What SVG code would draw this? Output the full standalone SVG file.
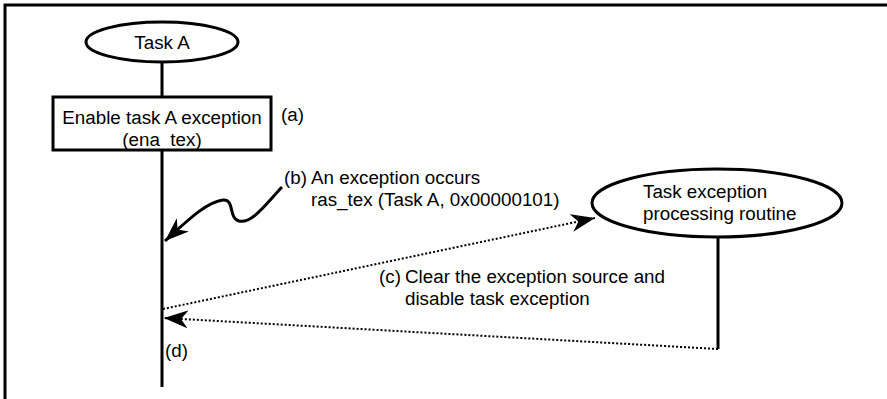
<svg xmlns="http://www.w3.org/2000/svg" width="887" height="399" viewBox="0 0 887 399">
<style>
  .t { font-family: "Liberation Sans", Arial, sans-serif; font-size: 18.8px; fill: #000; }
  .c { text-anchor: middle; }
  .shape { fill: #fff; stroke: #000; stroke-width: 3; }
  .line { fill: none; stroke: #000; stroke-width: 3; }
  .dot { fill: none; stroke: #000; stroke-width: 2; stroke-dasharray: 2 2; }
</style>
<defs>
  <marker id="ah" markerUnits="userSpaceOnUse" markerWidth="26" markerHeight="18" refX="24" refY="9" orient="auto">
    <path d="M0,0 L24,9 L0,18 L7,9 Z" fill="#000"/>
  </marker>
</defs>
<rect width="887" height="399" fill="#fff"/>
<path d="M5,399 V5 H887" fill="none" stroke="#000" stroke-width="3"/>

<g id="connectors">
  <line class="line" x1="162" y1="62" x2="162" y2="97"/>
  <line class="line" x1="162" y1="150" x2="162" y2="387"/>
  <line class="line" x1="718" y1="237" x2="718" y2="349"/>
  <path class="line" d="M282,187 C266,204 252,224 239,221 C228,218 235,199 223,200 C206,202 186,222 165,241" marker-end="url(#ah)"/>
  <line class="dot" x1="163" y1="309" x2="595" y2="218" marker-end="url(#ah)"/>
  <line class="dot" x1="718" y1="349" x2="164" y2="318" marker-end="url(#ah)"/>
</g>

<g id="taskA">
  <ellipse class="shape" cx="162" cy="42" rx="76" ry="20"/>
  <text class="t c" x="162" y="49">Task A</text>
</g>

<g id="enable">
  <rect class="shape" x="53" y="97" width="218" height="53"/>
  <text class="t c" x="162" y="124">Enable task A exception</text>
  <text class="t c" x="162" y="146">(ena_tex)</text>
</g>

<g id="handler">
  <ellipse class="shape" cx="717" cy="203" rx="125" ry="34"/>
  <text class="t" x="643" y="198">Task exception</text>
  <text class="t" x="643" y="220">processing routine</text>
</g>

<g id="labels">
  <text class="t" x="281" y="121">(a)</text>
  <text class="t" x="284" y="184">(b)</text>
  <text class="t" x="311" y="184">An exception occurs</text>
  <text class="t" x="311" y="206">ras_tex (Task A, 0x00000101)</text>
  <text class="t" x="379" y="283">(c)</text>
  <text class="t" x="405" y="283">Clear the exception source and</text>
  <text class="t" x="405" y="305">disable task exception</text>
  <text class="t" x="165" y="357">(d)</text>
</g>
</svg>
